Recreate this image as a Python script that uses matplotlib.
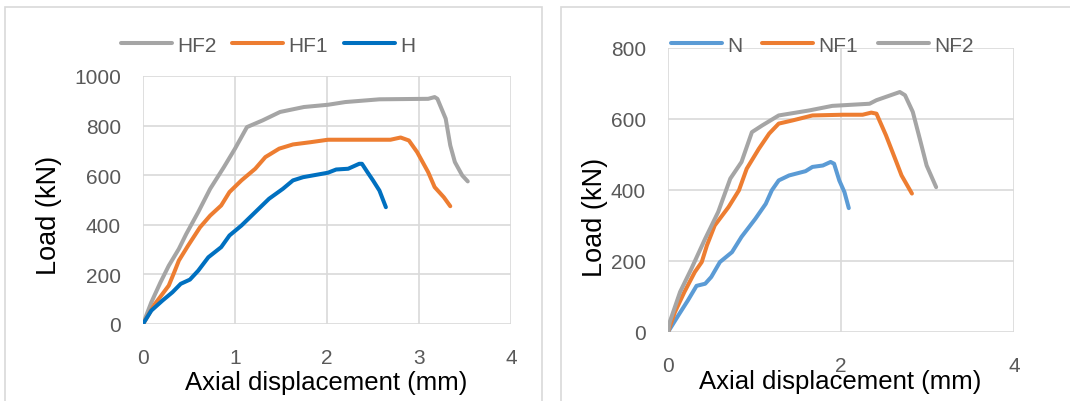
import matplotlib
matplotlib.use('Agg')
import matplotlib.pyplot as plt
from matplotlib.patches import Rectangle

plt.rcParams['font.family'] = ['Liberation Sans', 'DejaVu Sans']

# ── data ─────────────────────────────────────────────────────────────────────
# left panel: H series
hf2_x = [0, 0.09, 0.19, 0.28, 0.39, 0.47, 0.60, 0.73, 0.88, 1.00, 1.13, 1.30,
         1.49, 1.75, 2.01, 2.20, 2.57, 3.10, 3.17, 3.20, 3.29, 3.34, 3.39, 3.47, 3.53]
hf2_y = [0, 87, 168, 235, 303, 363, 451, 545, 633, 707, 794, 821,
         855, 875, 884, 895, 906, 908, 915, 908, 828, 720, 653, 599, 575]

hf1_x = [0, 0.13, 0.28, 0.34, 0.39, 0.49, 0.62, 0.73, 0.85, 0.94, 1.07, 1.22, 1.33,
         1.48, 1.63, 1.82, 2.01, 2.38, 2.69, 2.80, 2.89, 2.98, 3.10, 3.17, 3.27, 3.34]
hf1_y = [0, 81, 155, 209, 256, 316, 390, 437, 478, 532, 579, 626, 673,
         707, 724, 733, 743, 743, 743, 752, 740, 693, 612, 552, 511, 475]

h_x = [0, 0.09, 0.21, 0.32, 0.41, 0.51, 0.60, 0.71, 0.85, 0.94, 1.07, 1.22, 1.37,
       1.52, 1.63, 1.74, 2.01, 2.10, 2.23, 2.35, 2.38, 2.44, 2.50, 2.57, 2.64]
h_y = [0, 54, 94, 128, 162, 179, 215, 269, 310, 357, 397, 451, 505,
       545, 579, 592, 610, 623, 626, 646, 646, 612, 579, 538, 471]

# right panel: N series
n_x = [0, 0.12, 0.23, 0.33, 0.43, 0.50, 0.60, 0.74, 0.85, 1.01, 1.13, 1.20, 1.28,
       1.40, 1.59, 1.67, 1.79, 1.88, 1.92, 1.98, 2.04, 2.09]
n_y = [0, 47, 89, 130, 136, 155, 197, 225, 268, 319, 361, 399, 427,
       441, 453, 465, 469, 479, 474, 427, 394, 349]

nf1_x = [0, 0.08, 0.19, 0.31, 0.39, 0.45, 0.54, 0.70, 0.82, 0.91, 1.05, 1.17, 1.28,
         1.44, 1.67, 2.02, 2.25, 2.35, 2.41, 2.52, 2.64, 2.70, 2.82]
nf1_y = [0, 56, 113, 169, 197, 244, 300, 352, 399, 460, 516, 559, 587,
         596, 610, 612, 612, 618, 615, 554, 479, 441, 390]

nf2_x = [0, 0.02, 0.14, 0.27, 0.43, 0.58, 0.72, 0.85, 0.97, 1.09, 1.28, 1.63, 1.90,
         2.33, 2.41, 2.68, 2.74, 2.83, 2.91, 2.99, 3.10]
nf2_y = [0, 28, 113, 178, 263, 338, 432, 479, 563, 582, 610, 624, 637,
         643, 653, 676, 667, 620, 545, 469, 408]

GREY, ORANGE = '#A5A5A5', '#ED7D31'
BLUE_H, BLUE_N = '#0070C0', '#5B9BD5'
GRID, TICK = '#D9D9D9', '#595959'
LW = 2.9

fig = plt.figure(figsize=(10.7, 4.02), dpi=100)

# chart-area borders
fig.patches.append(Rectangle((5 / 1070, -0.1), 537 / 1070, 1.1 - 8 / 402, transform=fig.transFigure,
                             fill=False, edgecolor=GRID, lw=1.2))
fig.patches.append(Rectangle((561 / 1070, -0.1), 0.6, 1.1 - 8 / 402, transform=fig.transFigure,
                             fill=False, edgecolor=GRID, lw=1.2))


def style(ax, xmax, xstep, ymax, ystep):
    ax.set_xlim(0, xmax)
    ax.set_ylim(0, ymax)
    ax.set_xticks(range(0, xmax + 1, xstep))
    ax.set_yticks(range(0, ymax + 1, ystep))
    ax.grid(True, color=GRID, lw=1.2)
    ax.set_axisbelow(True)
    for s in ax.spines.values():
        s.set_visible(False)
    ax.tick_params(axis='both', length=0, labelsize=15, labelcolor=TICK)
    ax.tick_params(axis='y', pad=16)
    ax.tick_params(axis='x', pad=17)


# ── left panel ───────────────────────────────────────────────────────────────
ax1 = fig.add_axes([143 / 1070, 77 / 402, 368 / 1070, 248 / 402])
ax1.plot(hf2_x, hf2_y, color=GREY, lw=LW, label='HF2', solid_capstyle='round')
ax1.plot(hf1_x, hf1_y, color=ORANGE, lw=LW, label='HF1', solid_capstyle='round')
ax1.plot(h_x, h_y, color=BLUE_H, lw=LW, label='H', solid_capstyle='round')
style(ax1, 4, 1, 1000, 200)
ax1.set_xlabel('Axial displacement (mm)', fontsize=18.5, va='center')
ax1.set_ylabel('Load (kN)', fontsize=19.5, va='center')
ax1.xaxis.set_label_coords(0.497, -0.234)
ax1.yaxis.set_label_coords(-0.255, 0.44)
ax1.legend(loc='center', bbox_to_anchor=(268 / 1070, 1 - 46 / 402), bbox_transform=fig.transFigure,
           ncol=3, frameon=False, fontsize=15, handlelength=2.45, handletextpad=0.25,
           columnspacing=0.75, labelcolor=TICK)

# ── right panel ──────────────────────────────────────────────────────────────
ax2 = fig.add_axes([668 / 1070, 69 / 402, 346 / 1070, 284 / 402])
ax2.plot(n_x, n_y, color=BLUE_N, lw=LW, label='N', solid_capstyle='round')
ax2.plot(nf1_x, nf1_y, color=ORANGE, lw=LW, label='NF1', solid_capstyle='round')
ax2.plot(nf2_x, nf2_y, color=GREY, lw=LW, label='NF2', solid_capstyle='round')
style(ax2, 4, 2, 800, 200)
ax2.set_xlabel('Axial displacement (mm)', fontsize=18.5, va='center')
ax2.set_ylabel('Load (kN)', fontsize=19.5, va='center')
ax2.xaxis.set_label_coords(0.499, -0.171)
ax2.yaxis.set_label_coords(-0.21, 0.407)
ax2.legend(loc='center', bbox_to_anchor=(822 / 1070, 1 - 46 / 402), bbox_transform=fig.transFigure,
           ncol=3, frameon=False, fontsize=15, handlelength=2.45, handletextpad=0.25,
           columnspacing=0.95, labelcolor=TICK)

fig.savefig('out.png', dpi=100)
